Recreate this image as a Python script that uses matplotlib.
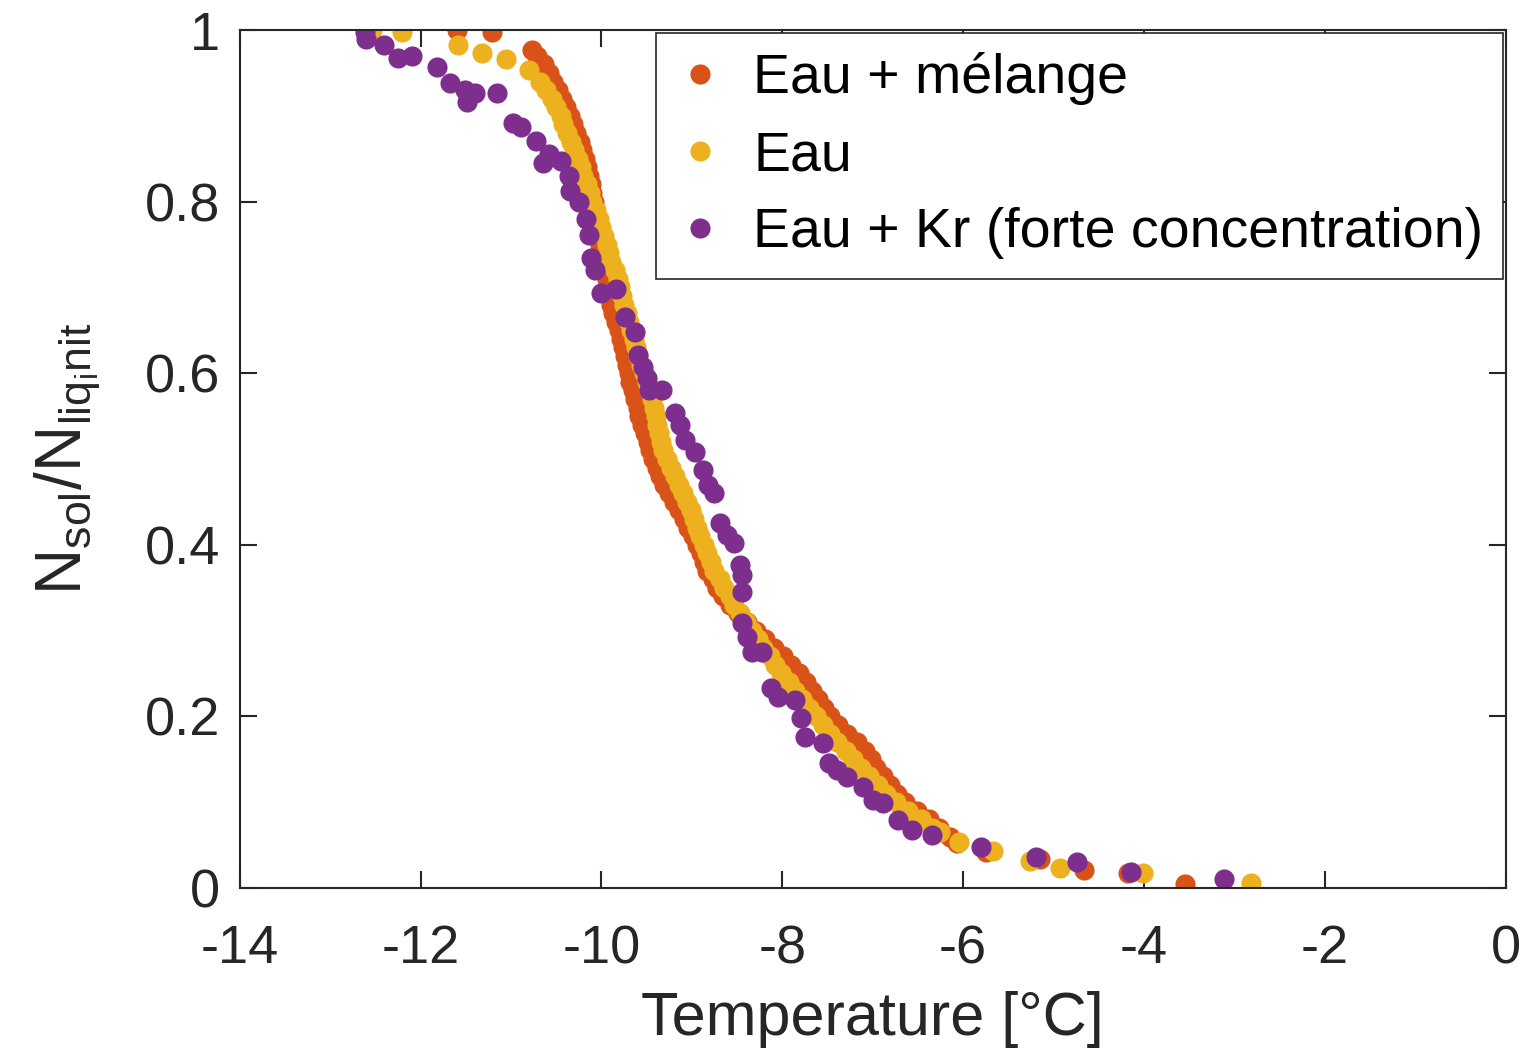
import matplotlib
matplotlib.use('Agg')
import matplotlib.pyplot as plt

plt.rcParams['font.family'] = ['Liberation Sans', 'DejaVu Sans']
plt.rcParams['mathtext.fontset'] = 'custom'
plt.rcParams['mathtext.rm'] = 'Liberation Sans'
plt.rcParams['mathtext.it'] = 'Liberation Sans'
plt.rcParams['axes.unicode_minus'] = False

# Eau + melange (orange)
melange_T = [-11.60, -11.21, -10.77, -10.71, -10.64, -10.58, -10.53, -10.48, -10.44, -10.39,
             -10.35, -10.31, -10.28, -10.24, -10.21, -10.18, -10.16, -10.14, -10.12, -10.10,
             -10.08, -10.07, -10.06, -10.05, -10.03, -10.02, -10.00, -9.98, -9.96, -9.94,
             -9.93, -9.91, -9.89, -9.87, -9.84, -9.81, -9.78, -9.76, -9.74, -9.72,
             -9.70, -9.68, -9.65, -9.63, -9.60, -9.58, -9.55, -9.52, -9.49, -9.46,
             -9.43, -9.39, -9.35, -9.31, -9.25, -9.20, -9.14, -9.09, -9.04, -8.99,
             -8.94, -8.90, -8.87, -8.83, -8.77, -8.72, -8.66, -8.58, -8.49, -8.39,
             -8.29, -8.19, -8.09, -7.99, -7.90, -7.82, -7.74, -7.67, -7.60, -7.54,
             -7.47, -7.38, -7.28, -7.17, -7.08, -7.02, -6.96, -6.89, -6.81, -6.73,
             -6.64, -6.51, -6.38, -6.27, -6.15, -6.07, -5.75, -5.15, -4.66, -4.18, -3.55]
melange_y = [1.000, 0.998, 0.977, 0.97, 0.96, 0.95, 0.94, 0.93, 0.92, 0.91,
             0.90, 0.89, 0.88, 0.87, 0.86, 0.85, 0.84, 0.83, 0.82, 0.81,
             0.80, 0.79, 0.78, 0.77, 0.76, 0.75, 0.74, 0.73, 0.72, 0.71,
             0.70, 0.69, 0.68, 0.67, 0.66, 0.65, 0.64, 0.63, 0.62, 0.61,
             0.60, 0.59, 0.58, 0.57, 0.56, 0.55, 0.54, 0.53, 0.52, 0.51,
             0.50, 0.49, 0.48, 0.47, 0.46, 0.45, 0.44, 0.43, 0.42, 0.41,
             0.40, 0.39, 0.38, 0.37, 0.36, 0.35, 0.34, 0.33, 0.32, 0.31,
             0.30, 0.29, 0.28, 0.27, 0.26, 0.25, 0.24, 0.23, 0.22, 0.21,
             0.20, 0.19, 0.18, 0.17, 0.16, 0.15, 0.14, 0.13, 0.12, 0.11,
             0.10, 0.09, 0.08, 0.07, 0.06, 0.052, 0.042, 0.034, 0.021, 0.017, 0.005]

# Eau (yellow)
eau_T = [-12.54, -12.21, -11.59, -11.32, -11.06, -10.80, -10.68, -10.61, -10.55, -10.50,
         -10.45, -10.42, -10.38, -10.34, -10.30, -10.26, -10.23, -10.20, -10.16, -10.13,
         -10.10, -10.06, -10.03, -10.00, -9.97, -9.94, -9.92, -9.89, -9.85, -9.82,
         -9.79, -9.77, -9.75, -9.72, -9.70, -9.67, -9.64, -9.62, -9.59, -9.56,
         -9.53, -9.50, -9.47, -9.44, -9.42, -9.40, -9.38, -9.36, -9.34, -9.32,
         -9.28, -9.23, -9.19, -9.14, -9.10, -9.05, -9.01, -8.98, -8.94, -8.91,
         -8.87, -8.83, -8.79, -8.75, -8.69, -8.64, -8.58, -8.53, -8.47, -8.40,
         -8.34, -8.27, -8.21, -8.14, -8.08, -8.01, -7.93, -7.86, -7.78, -7.70,
         -7.63, -7.55, -7.47, -7.39, -7.30, -7.22, -7.13, -7.04, -6.94, -6.85,
         -6.74, -6.61, -6.47, -6.34, -6.26, -6.04, -5.67, -5.26, -4.93, -4.01, -2.82]
eau_y = [1.000, 0.998, 0.982, 0.973, 0.966, 0.953, 0.94, 0.93, 0.92, 0.91,
         0.90, 0.89, 0.88, 0.87, 0.86, 0.85, 0.84, 0.83, 0.82, 0.81,
         0.80, 0.79, 0.78, 0.77, 0.76, 0.75, 0.74, 0.73, 0.72, 0.71,
         0.70, 0.69, 0.68, 0.67, 0.66, 0.65, 0.64, 0.63, 0.62, 0.61,
         0.60, 0.59, 0.58, 0.57, 0.56, 0.55, 0.54, 0.53, 0.52, 0.51,
         0.50, 0.49, 0.48, 0.47, 0.46, 0.45, 0.44, 0.43, 0.42, 0.41,
         0.40, 0.39, 0.38, 0.37, 0.36, 0.35, 0.34, 0.33, 0.32, 0.31,
         0.30, 0.29, 0.28, 0.27, 0.26, 0.25, 0.24, 0.23, 0.22, 0.21,
         0.20, 0.19, 0.18, 0.17, 0.16, 0.15, 0.14, 0.13, 0.12, 0.11,
         0.10, 0.09, 0.08, 0.07, 0.065, 0.054, 0.043, 0.031, 0.023, 0.017, 0.006]

# Eau + Kr, forte concentration (purple)
kr_T = [-12.62, -12.60, -12.40, -12.25, -12.09, -11.82, -11.68, -11.51, -11.40, -11.49,
        -11.15, -10.98, -10.89, -10.72, -10.58, -10.65, -10.45, -10.36, -10.35, -10.25,
        -10.17, -10.14, -10.11, -10.07, -10.00, -9.84, -9.74, -9.63, -9.60, -9.54,
        -9.50, -9.47, -9.33, -9.19, -9.13, -9.08, -8.97, -8.88, -8.82, -8.75,
        -8.69, -8.61, -8.53, -8.47, -8.45, -8.45, -8.44, -8.39, -8.34, -8.22,
        -8.12, -8.05, -7.86, -7.79, -7.75, -7.55, -7.48, -7.40, -7.28, -7.11,
        -7.00, -6.89, -6.72, -6.57, -6.34, -5.80, -5.19, -4.74, -4.14, -3.12]
kr_y = [0.998, 0.990, 0.982, 0.967, 0.970, 0.957, 0.938, 0.930, 0.927, 0.916,
        0.927, 0.892, 0.887, 0.871, 0.855, 0.845, 0.847, 0.830, 0.812, 0.800,
        0.780, 0.761, 0.734, 0.720, 0.693, 0.698, 0.666, 0.648, 0.621, 0.607,
        0.594, 0.580, 0.580, 0.554, 0.540, 0.522, 0.508, 0.487, 0.470, 0.460,
        0.425, 0.411, 0.402, 0.376, 0.365, 0.345, 0.309, 0.293, 0.275, 0.275,
        0.233, 0.223, 0.219, 0.198, 0.176, 0.169, 0.146, 0.138, 0.129, 0.118,
        0.103, 0.099, 0.079, 0.068, 0.062, 0.048, 0.036, 0.030, 0.019, 0.010]

fig = plt.figure(figsize=(15.27, 10.5), dpi=100)
ax = fig.add_axes([0.157, 0.1543, 0.829, 0.8171])

ms = 14.5
ax.plot(melange_T, melange_y, 'o', color='#D95319', markersize=ms, markeredgewidth=0, label='Eau + mélange')
ax.plot(eau_T, eau_y, 'o', color='#EDB120', markersize=ms, markeredgewidth=0, label='Eau')
ax.plot(kr_T, kr_y, 'o', color='#7E2F8E', markersize=ms, markeredgewidth=0, label='Eau + Kr (forte concentration)')

ax.set_xlim(-14, 0)
ax.set_ylim(0, 1)
ax.set_xticks(range(-14, 1, 2))
ax.set_yticks([0, 0.2, 0.4, 0.6, 0.8, 1])
ax.set_yticklabels(['0', '0.2', '0.4', '0.6', '0.8', '1'])
ax.tick_params(direction='in', length=12, width=1.5, labelsize=39, colors='#262626',
               top=True, right=True)
ax.tick_params(axis='x', pad=26)
ax.tick_params(axis='y', pad=14)
for s in ax.spines.values():
    s.set_linewidth(1.5)
    s.set_color('#262626')

ax.set_xlabel('Temperature [°C]', fontsize=44, color='#262626', labelpad=12)
ax.set_ylabel(r'$\mathregular{N_{sol}/N_{liq_{i}nit}}$', fontsize=46, color='#262626', labelpad=30)

leg = ax.legend(loc='upper right', fontsize=40, frameon=True, fancybox=False,
                edgecolor='#262626', framealpha=1, borderaxespad=0.05,
                handletextpad=0.5, labelspacing=0.45, markerscale=1.0, handlelength=0.9,
                borderpad=0.35)
leg.get_frame().set_linewidth(1.2)

plt.savefig('out.png', dpi=100)
plt.close(fig)
